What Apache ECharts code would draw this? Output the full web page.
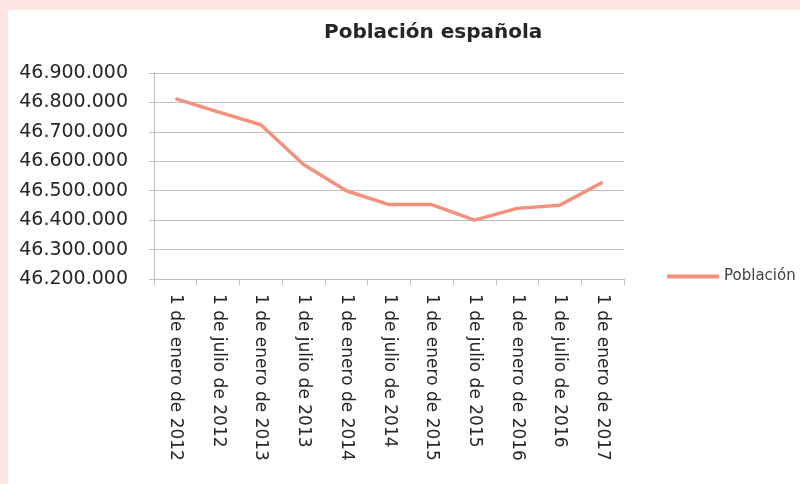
<!DOCTYPE html>
<html>
<head>
<meta charset="utf-8">
<script src="https://cdn.jsdelivr.net/npm/echarts@6/dist/echarts.min.js"></script>
<style>
html,body{margin:0;padding:0;width:800px;height:484px;background:#fde4e1;overflow:hidden;}
#main{position:absolute;left:8px;top:10px;width:792px;height:474px;background:#fff;}
</style>
</head>
<body>
<div id="main"></div>
<script>
const categories = [
  "1 de enero de 2012", "1 de julio de 2012", "1 de enero de 2013", "1 de julio de 2013",
  "1 de enero de 2014", "1 de julio de 2014", "1 de enero de 2015", "1 de julio de 2015",
  "1 de enero de 2016", "1 de julio de 2016", "1 de enero de 2017"
];
const poblacion = [46813000, 46768000, 46724000, 46589000, 46500000, 46453000, 46453000, 46400000, 46440000, 46451000, 46529000];
const seriesName = "Población";
const titleText = "Población española";
const yMin = 46200000, yMax = 46900000, yStep = 100000;

function fmt(v){
  return String(Math.round(v)).replace(/\B(?=(\d{3})+(?!\d))/g, ".");
}

const chart = echarts.init(document.getElementById('main'), null, {renderer:'canvas'});
chart.setOption({
  backgroundColor: '#ffffff',
  animation: false,
  title: {
    text: titleText,
    left: 311, top: 8,
    textStyle: {fontFamily: 'DejaVu Sans', fontWeight: 'bold', fontSize: 20, color: '#262626'}
  },
  legend: {
    data: [seriesName],
    left: 654, top: 254,
    itemWidth: 52, itemHeight: 4, itemGap: 8,
    icon: 'rect',
    textStyle: {fontFamily: 'DejaVu Sans', fontSize: 15, color: '#404040'}
  },
  grid: {left: 146, right: 176, top: 63, bottom: 205, containLabel: false},
  xAxis: {
    type: 'category',
    data: categories,
    boundaryGap: true,
    axisLine: {show: true, lineStyle: {color: '#bfbfbf', width: 1}},
    axisTick: {show: true, length: 6, alignWithLabel: false, lineStyle: {color: '#bfbfbf'}},
    axisLabel: {interval: 0, rotate: -90, margin: 15, fontFamily: 'DejaVu Sans', fontSize: 17, color: '#262626'},
    splitLine: {show: false}
  },
  yAxis: {
    type: 'value',
    min: yMin, max: yMax, interval: yStep,
    axisLine: {show: true, lineStyle: {color: '#bfbfbf', width: 1}},
    axisTick: {show: true, length: 5, lineStyle: {color: '#bfbfbf'}},
    axisLabel: {formatter: fmt, margin: 26, fontFamily: 'DejaVu Sans', fontSize: 19, color: '#262626'},
    splitLine: {show: true, lineStyle: {color: '#bfbfbf', width: 1}}
  },
  series: [{
    name: seriesName,
    type: 'line',
    data: poblacion,
    symbol: 'none',
    lineStyle: {color: '#f4917c', width: 3.5},
    itemStyle: {color: '#f4917c'}
  }]
});
</script>
</body>
</html>
